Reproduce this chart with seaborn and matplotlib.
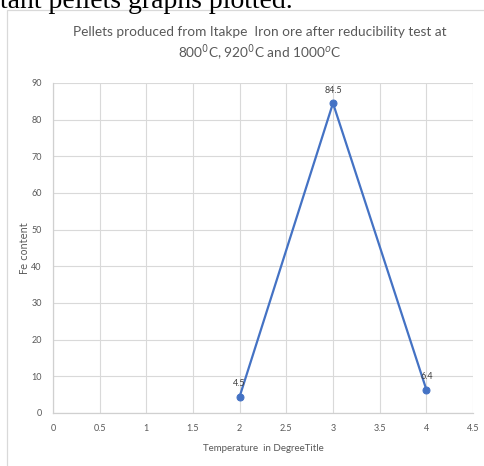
import matplotlib
matplotlib.use("Agg")
import matplotlib.pyplot as plt
import seaborn as sns
import pandas as pd
from matplotlib.patches import Rectangle

x_vals = [2, 3, 4]
fe_vals = [4.5, 84.5, 6.4]
point_labels = ["4.5", "84.5", "6.4"]
x_ticks = [0, 0.5, 1, 1.5, 2, 2.5, 3, 3.5, 4, 4.5]
x_tick_labels = ["0", "0.5", "1", "1.5", "2", "2.5", "3", "3.5", "4", "4.5"]
y_ticks = [0, 10, 20, 30, 40, 50, 60, 70, 80, 90]

sns.set_theme(style="white")
plt.rcParams["font.family"] = ["Lato", "DejaVu Sans"]

df = pd.DataFrame({"Temperature": x_vals, "Fe": fe_vals})

W, H = 485, 466
fig = plt.figure(figsize=(W / 100, H / 100), dpi=100)
ax = fig.add_axes([53 / W, 1 - 413 / H, (473 - 53) / W, (413 - 83) / H])

blue = "#4472C4"
sns.lineplot(data=df, x="Temperature", y="Fe", ax=ax, color=blue, linewidth=1.6,
             marker="o", markersize=5, markeredgecolor=blue)

for xv, yv, lab in zip(x_vals, fe_vals, point_labels):
    ax.annotate(lab, (xv, yv), xytext=(0, 6), textcoords="offset points",
                ha="center", va="bottom", fontsize=6.5, color="#404040")

ax.set_xlim(0, 4.5)
ax.set_ylim(0, 90)
ax.set_xticks(x_ticks)
ax.set_xticklabels(x_tick_labels)
ax.set_yticks(y_ticks)
ax.grid(True, color="#D9D9D9", linewidth=0.8)
ax.set_axisbelow(True)
for s in ["top", "right"]:
    ax.spines[s].set_visible(False)
for s in ["left", "bottom"]:
    ax.spines[s].set_color("#D0D0D0")
    ax.spines[s].set_linewidth(0.9)
ax.tick_params(axis="both", length=0, labelsize=6.5, colors="#595959", pad=8)
ax.set_xlabel("Temperature  in DegreeTitle", fontsize=7, color="#595959", labelpad=8)
ax.set_ylabel("Fe content", fontsize=7, color="#595959", labelpad=1,
              fontfamily="DejaVu Sans")

fig.text(260 / W, 1 - 32 / H, "Pellets produced from Itakpe  Iron ore after reducibility test at",
         ha="center", va="center", fontsize=9.8, color="#595959")
fig.text(260 / W, 1 - 53 / H, "800$^0$C, 920$^0$C and 1000$^o$C",
         ha="center", va="center", fontsize=9.8, color="#595959")

# chart frame
fig.patches.append(Rectangle((7 / W, -0.01), 1.0, 1 - 10 / H + 0.01, transform=fig.transFigure,
                             fill=False, edgecolor="#D9D9D9", linewidth=0.9))

# partial document text at top
fig.text(0 / W, 1 - 8 / H, "tant pellets graphs plotted.", ha="left", va="baseline",
         fontsize=20, color="black", family="Liberation Serif")

fig.savefig("out.png", dpi=100)
